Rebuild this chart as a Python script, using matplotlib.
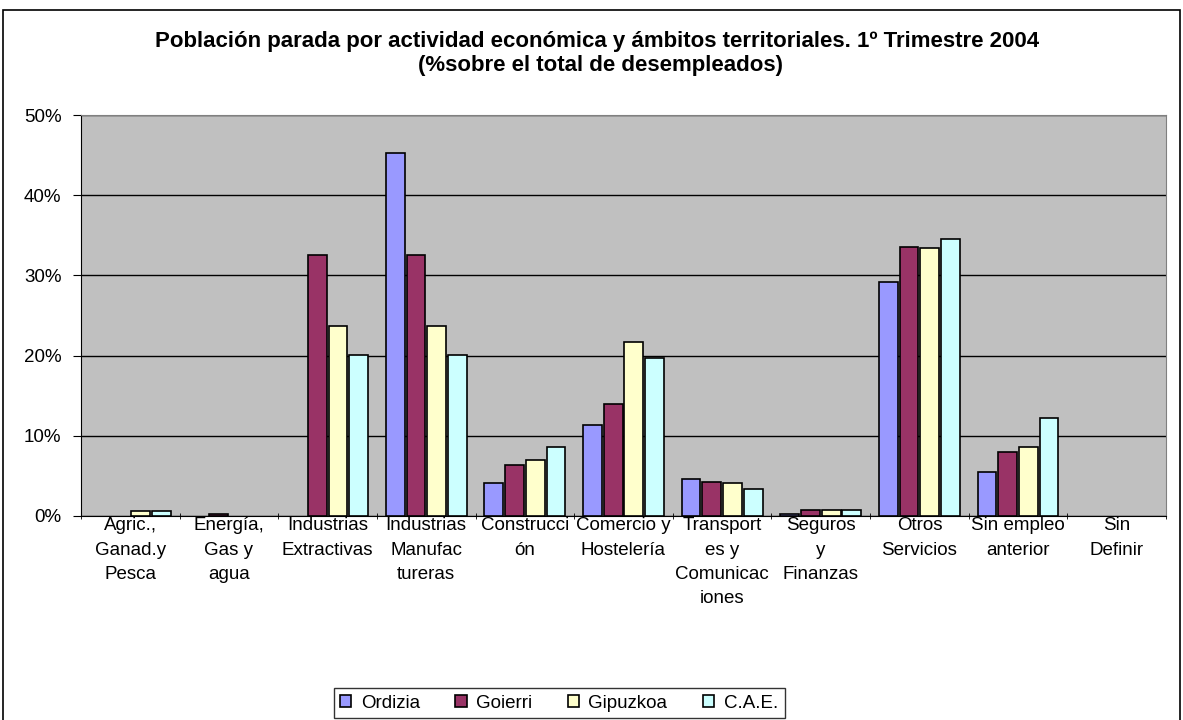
import numpy as np
import matplotlib.pyplot as plt
from matplotlib.patches import Patch

plt.rcParams['font.family'] = ['Liberation Sans', 'DejaVu Sans']

categories = ["Agric.,\nGanad.y\nPesca", "Energía,\nGas y\nagua", "Industrias\nExtractivas",
              "Industrias\nManufac\ntureras", "Construcci\nón", "Comercio y\nHostelería",
              "Transport\nes y\nComunicac\niones", "Seguros\ny\nFinanzas", "Otros\nServicios",
              "Sin empleo\nanterior", "Sin\nDefinir"]
series = ["Ordizia", "Goierri", "Gipuzkoa", "C.A.E."]
ordizia = [0.0, 0.0, 0.0, 45.3, 4.1, 11.3, 4.6, 0.3, 29.2, 5.5, 0.0]
goierri = [0.0, 0.3, 32.5, 32.5, 6.4, 14.0, 4.2, 0.8, 33.6, 8.0, 0.0]
gipuzkoa = [0.6, 0.0, 23.7, 23.7, 7.0, 21.7, 4.1, 0.8, 33.4, 8.6, 0.0]
cae = [0.6, 0.0, 20.1, 20.1, 8.6, 19.7, 3.4, 0.8, 34.5, 12.2, 0.0]
colors = ["#9999FF", "#993366", "#FFFFCC", "#CCFFFF"]

fig = plt.figure(figsize=(11.83, 7.2), dpi=100)
ax = fig.add_axes([81 / 1183, 1 - 516 / 720, (1166 - 81) / 1183, (516 - 115) / 720])
ax.set_facecolor("#C0C0C0")

x = np.arange(len(categories))
pitch = 0.21
for i, vals in enumerate([ordizia, goierri, gipuzkoa, cae]):
    vals = np.array(vals)
    lw = np.where(vals > 0, 1.2, 0.0)  # empty categories draw nothing
    ax.bar(x + (i - 1.5) * pitch, vals, width=0.19, color=colors[i], edgecolor="black",
           linewidth=lw, zorder=3)

ax.set_xlim(-0.5, len(categories) - 0.5)
ax.set_ylim(0, 50)
ax.set_yticks(range(0, 51, 10))
ax.set_yticklabels([f"{v}%" for v in range(0, 51, 10)], fontsize=13.5)
ax.yaxis.grid(True, color="black", linewidth=1, zorder=1)
ax.set_xticks(x)
ax.set_xticklabels(categories, fontsize=13.5, linespacing=1.55, va="top")
ax.tick_params(axis="x", length=0, pad=1)
ax.tick_params(axis="y", length=6, direction="out", pad=8)
ax.set_xticks(np.arange(-0.5, len(categories), 1), minor=True)
ax.tick_params(axis="x", which="minor", length=5, direction="inout")
for s in ["top", "right"]:
    ax.spines[s].set_color("#808080")
for s in ["left", "bottom"]:
    ax.spines[s].set_color("black")

fig.text(597 / 1183, 1 - 41 / 720, "Población parada por actividad económica y ámbitos territoriales. 1º Trimestre 2004",
         ha="center", va="center", fontsize=16, fontweight="bold")
fig.text(600 / 1183, 1 - 66 / 720, "(%sobre el total de desempleados)",
         ha="center", va="center", fontsize=16, fontweight="bold")

handles = [Patch(facecolor=c, edgecolor="black", linewidth=1.2) for c in colors]
leg = fig.legend(handles, series, loc="center", bbox_to_anchor=(559 / 1183, 1 - 703 / 720), ncol=4,
                 fontsize=13.5, frameon=True, fancybox=False, edgecolor="black", handlelength=0.6,
                 handleheight=0.6, columnspacing=1.9, handletextpad=0.5, borderpad=0.35)
leg.get_frame().set_linewidth(1)

fig.patches.append(plt.Rectangle((3 / 1183, -0.01), 1177 / 1183, 1 - 10 / 720 + 0.01,
                                 transform=fig.transFigure, fill=False, edgecolor="black", linewidth=1.2))

fig.savefig("out.png", dpi=100)
